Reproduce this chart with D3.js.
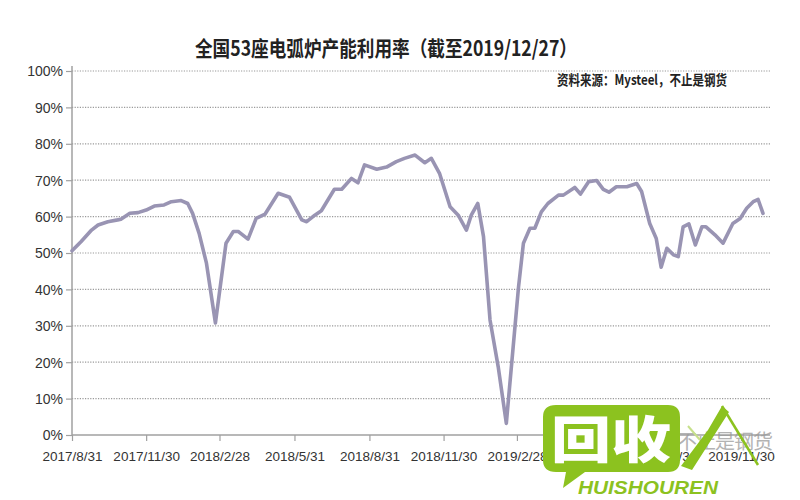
<!DOCTYPE html>
<html><head><meta charset="utf-8">
<script src="https://cdn.jsdelivr.net/npm/d3@7"></script>
<style>html,body{margin:0;padding:0;background:#fff;}svg{display:block;}</style>
</head><body>
<svg id="c" width="800" height="500"></svg>
<script>
const titleText = "全国53座电弧炉产能利用率（截至2019/12/27）";
const sourceText = "资料来源：Mysteel，不止是钢货";
const yTicks = [0,10,20,30,40,50,60,70,80,90,100];
const xTickLabels = ["2017/8/31","2017/11/30","2018/2/28","2018/5/31","2018/8/31","2018/11/30","2019/2/28","2019/5/31","2019/8/31","2019/11/30"];
const dates = ["2017-08-31","2017-09-11","2017-09-24","2017-10-02","2017-10-14","2017-10-26","2017-10-30","2017-11-10","2017-11-20","2017-11-30",
"2017-12-10","2017-12-22","2017-12-31","2018-01-12","2018-01-20","2018-01-26","2018-02-03","2018-02-12","2018-02-23","2018-03-08",
"2018-03-17","2018-03-23","2018-03-26","2018-04-04","2018-04-14","2018-04-25","2018-05-11","2018-05-25","2018-06-09","2018-06-15",
"2018-06-25","2018-07-03","2018-07-19","2018-07-28","2018-08-09","2018-08-17","2018-08-25","2018-09-09","2018-09-21","2018-10-03",
"2018-10-13","2018-10-26","2018-11-07","2018-11-15","2018-11-25","2018-12-08","2018-12-18","2018-12-28","2019-01-03","2019-01-11",
"2019-01-18","2019-01-26","2019-02-05","2019-02-15","2019-02-26","2019-03-02","2019-03-08","2019-03-16","2019-03-22","2019-03-30",
"2019-04-07","2019-04-20","2019-04-26","2019-05-10","2019-05-17","2019-05-27","2019-06-06","2019-06-14","2019-06-21","2019-06-30",
"2019-07-13","2019-07-25","2019-07-31","2019-08-10","2019-08-18","2019-08-24","2019-08-31","2019-09-08","2019-09-14","2019-09-20",
"2019-09-27","2019-10-05","2019-10-13","2019-10-18","2019-10-29","2019-11-08","2019-11-20","2019-11-29","2019-12-07","2019-12-15",
"2019-12-21","2019-12-27"];
const values = [50.6,53.1,56.3,57.7,58.6,59.1,59.3,60.9,61.1,61.8,
62.9,63.2,64.1,64.4,63.6,60.9,55.4,47.2,30.8,52.7,
55.9,55.9,55.4,53.8,59.5,60.7,66.4,65.3,59.1,58.6,
60.4,61.6,67.5,67.5,70.5,69.3,74.2,73.0,73.6,75.1,
76.0,76.9,74.8,76.0,71.9,62.7,60.4,56.3,60.4,63.6,
54.5,31.6,18.8,3.2,30.7,40.7,52.7,56.8,56.8,61.3,
63.6,65.9,65.9,68.0,66.2,69.6,69.9,67.5,66.7,68.2,
68.2,69.1,66.9,58.1,54.0,46.1,51.3,49.5,49.0,57.2,
58.0,52.2,57.2,57.2,55.0,52.7,58.1,59.5,62.3,64.1,
64.7,60.9];

const parse = d3.timeParse("%Y-%m-%d");
const parseTick = d3.timeParse("%Y/%-m/%-d");
const data = dates.map((d,i)=>({date:parse(d), v:values[i]}));

const svg = d3.select("#c");
const x = d3.scaleTime().domain([parse("2017-08-31"), parse("2019-11-30")]).range([72, 741]);
const y = d3.scaleLinear().domain([0,100]).range([435, 71]);
const xEnd = 770;

// gridlines
svg.append("g").selectAll("line").data(yTicks.filter(t=>t>0)).join("line")
  .attr("x1",72).attr("x2",xEnd).attr("y1",d=>y(d)).attr("y2",d=>y(d))
  .attr("stroke","#9a9a9a").attr("stroke-width",1.2).attr("stroke-dasharray","1.2,1.4");

// y axis
const yAxis = d3.axisLeft(y).tickValues(yTicks).tickFormat(d=>d+"%").tickSize(6).tickSizeOuter(0);
const gy = svg.append("g").attr("transform","translate(72,0)").call(yAxis);
gy.select(".domain").attr("stroke","#a0a0a0").attr("stroke-width",1.5).attr("d","M0,66V435");
gy.selectAll(".tick line").attr("stroke","#a0a0a0").attr("stroke-width",1.2);
gy.selectAll(".tick text").attr("x",-9).attr("dy","0.35em")
  .attr("font-family","'Liberation Sans', Arial, sans-serif").attr("font-size",14).attr("fill","#333");

// x axis
const xTickDates = xTickLabels.map(s=>parseTick(s));
const xAxis = d3.axisBottom(x).tickValues(xTickDates).tickFormat((d,i)=>xTickLabels[i]).tickSize(6).tickSizeOuter(0);
const gx = svg.append("g").attr("transform","translate(0,435)").call(xAxis);
gx.select(".domain").attr("stroke","#a0a0a0").attr("stroke-width",1.5).attr("d","M72,0H"+xEnd);
gx.selectAll(".tick line").attr("stroke","#a0a0a0").attr("stroke-width",1.2);
gx.selectAll(".tick text").attr("y",21).attr("dy","0.35em")
  .attr("font-family","'Liberation Sans', Arial, sans-serif").attr("font-size",13.5).attr("fill","#333");

// line
const line = d3.line().x(d=>x(d.date)).y(d=>y(d.v));
svg.append("path").datum(data).attr("d",line).attr("fill","none")
  .attr("stroke","#9994b3").attr("stroke-width",3.6).attr("stroke-linejoin","round").attr("stroke-linecap","round");

// title
svg.append("text").attr("x",386).attr("y",56).attr("text-anchor","middle")
  .attr("font-family","'Noto Sans CJK SC', sans-serif").attr("font-weight",700).attr("font-size",21)
  .attr("fill","#222").attr("textLength",382).attr("lengthAdjust","spacingAndGlyphs").text(titleText);
svg.append("text").attr("x",557).attr("y",85)
  .attr("font-family","'Noto Sans CJK SC', sans-serif").attr("font-weight",700).attr("font-size",14)
  .attr("fill","#222").attr("textLength",170).attr("lengthAdjust","spacingAndGlyphs").text(sourceText);

// watermark
const wm = svg.append("g");
wm.append("text").attr("x",677).attr("y",449).attr("font-family","'Noto Sans CJK SC', sans-serif")
  .attr("font-size",20).attr("fill","#9a9a9a").attr("opacity",0.75).attr("textLength",96).text("不止是钢货");
wm.append("path").attr("d","M556,405 H668 Q680,405 680,417 V460 Q680,472 668,472 H585 L563,488 L566,472 H556 Q543,472 543,460 V417 Q543,405 556,405 Z")
  .attr("fill","#8cc21f");
wm.append("text").attr("x",611).attr("y",458).attr("text-anchor","middle")
  .attr("font-family","'Noto Sans CJK SC', sans-serif").attr("font-weight",900).attr("font-size",50)
  .attr("fill","#fff").attr("textLength",120).attr("lengthAdjust","spacingAndGlyphs").text("回收");
wm.append("text").attr("x",578).attr("y",494)
  .attr("font-family","'Liberation Sans', Arial, sans-serif").attr("font-weight",700).attr("font-style","italic").attr("font-size",18)
  .attr("fill","#8cc21f").attr("textLength",140).attr("lengthAdjust","spacingAndGlyphs").text("HUISHOUREN");
wm.append("path").attr("d","M681,466 L708,430 L722,406 L729,412 L692,470 Z").attr("fill","#8cc21f");
wm.append("path").attr("d","M722,406 L758,465").attr("stroke","#8cc21f").attr("stroke-width",2.5).attr("fill","none");
wm.append("path").attr("d","M700,440 L688,426").attr("stroke","#c6e08a").attr("stroke-width",2).attr("fill","none");
</script>
</body></html>
